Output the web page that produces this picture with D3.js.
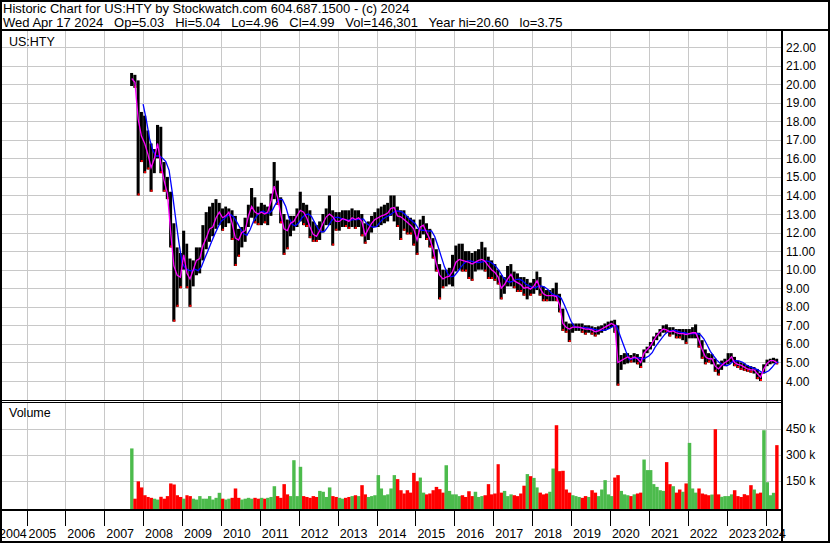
<!DOCTYPE html>
<html>
<head>
<meta charset="UTF-8">
<title>US:HTY historic chart</title>
<script src="https://cdnjs.cloudflare.com/ajax/libs/d3/7.8.5/d3.min.js"></script>
<style>
body { margin: 0; background: #fff; }
svg text { font-family: "Liberation Sans", Arial, sans-serif; font-size: 12px; fill: #000; }
svg text.head { font-size: 13px; white-space: pre; }
svg text.lbl { font-size: 12.5px; }
</style>
</head>
<body>
<svg id="chart" width="830" height="543"></svg>
<script>
// monthly bars, Sep 2007 .. Apr 2024
var startMonth = new Date(2007, 8, 1);

var highs = [
    20.6, 20.5, 20.2, 18.5,
    18.3, 17.5, 16.8, 16.5, 17.8, 17.7, 15.8, 15.0, 14.2, 12.5, 11.2, 10.9,
    12.1, 11.4, 10.6, 10.5, 11.2, 11.2, 12.4, 13.1, 13.4, 13.6, 13.8, 13.6,
    13.3, 13.4, 13.3, 13.2, 12.9, 12.2, 12.3, 12.8, 13.5, 14.4, 13.9, 13.4,
    13.6, 13.5, 13.4, 14.1, 15.8, 14.8, 13.9, 13.0, 12.7, 12.9, 12.9, 13.3,
    14.2, 13.6, 13.5, 13.2, 12.6, 12.4, 12.6, 13.0, 13.3, 14.0, 13.2, 13.1,
    13.1, 13.2, 13.2, 13.2, 13.3, 13.2, 13.2, 13.0, 12.5, 12.6, 12.9, 13.1,
    13.3, 13.4, 13.5, 13.6, 14.0, 14.0, 13.4, 13.2, 13.2, 12.9, 12.8, 12.7,
    12.2, 12.7, 12.9, 12.5, 12.2, 11.7, 11.1, 10.3, 10.0, 10.0, 10.1, 10.8,
    11.3, 11.4, 11.4, 11.0, 11.0, 10.9, 11.0, 11.1, 11.5, 11.2, 10.7, 10.5,
    10.3, 10.0, 9.7, 9.6, 10.2, 10.3, 9.9, 9.8, 9.6, 9.6, 9.5, 9.3,
    9.5, 9.9, 9.6, 9.1, 8.9, 8.9, 9.0, 9.3, 8.7, 7.9, 7.2, 7.1,
    7.1, 7.1, 7.1, 7.1, 7.0, 7.0, 6.95, 6.9, 6.95, 7.0, 7.1, 7.2,
    7.25, 7.3, 7.0, 5.4, 5.5, 5.5, 5.4, 5.5, 5.45, 5.3, 5.7, 5.85,
    6.1, 6.4, 6.6, 6.8, 7.0, 7.05, 6.9, 6.9, 6.8, 6.8, 6.8, 6.8,
    6.8, 6.9, 7.05, 6.6, 6.2, 5.7, 5.5, 5.45, 5.2, 4.9, 5.1, 5.2,
    5.5, 5.5, 5.3, 5.1, 5.0, 4.95, 4.85, 4.8, 4.75, 4.65, 4.45, 4.9,
    5.15, 5.2, 5.25, 5.2
];

var lows = [
    19.9, 19.8, 14.0, 15.8,
    15.2, 15.4, 14.2, 15.2, 16.0, 15.2, 14.2, 13.8, 11.2, 7.2, 8.0, 9.0,
    10.0, 9.0, 8.0, 9.1, 9.7, 9.8, 10.5, 11.1, 11.5, 11.8, 12.2, 12.4,
    12.1, 12.3, 12.5, 11.6, 10.2, 10.7, 11.2, 11.5, 12.3, 12.8, 12.5, 12.4,
    12.4, 12.5, 12.4, 12.9, 13.8, 13.5, 12.5, 10.8, 11.1, 11.8, 12.1, 12.3,
    12.6, 12.4, 12.3, 11.7, 11.5, 11.5, 11.6, 12.0, 12.4, 12.4, 11.3, 12.1,
    12.1, 12.3, 12.3, 12.2, 12.3, 12.2, 12.3, 11.8, 11.4, 11.6, 12.0, 12.3,
    12.3, 12.4, 12.5, 12.6, 12.9, 12.6, 12.3, 11.6, 12.1, 11.9, 11.9, 11.3,
    10.8, 11.7, 11.9, 11.6, 11.2, 10.6, 9.9, 8.4, 9.0, 9.1, 9.2, 9.1,
    9.9, 10.0, 9.9, 9.9, 9.5, 9.4, 9.9, 10.0, 10.0, 9.9, 9.5, 9.5,
    9.4, 9.2, 8.4, 8.7, 9.1, 9.1, 9.0, 8.8, 8.8, 8.6, 8.4, 8.6,
    8.7, 8.9, 8.6, 8.3, 8.3, 8.3, 8.3, 8.3, 7.7, 6.7, 6.6, 6.1,
    6.6, 6.7, 6.7, 6.6, 6.5, 6.6, 6.5, 6.4, 6.5, 6.6, 6.7, 6.8,
    6.9, 6.6, 3.75, 4.6, 4.9, 4.95, 5.0, 5.0, 4.9, 4.7, 5.0, 5.5,
    5.7, 5.9, 6.2, 6.4, 6.6, 6.6, 6.4, 6.5, 6.3, 6.3, 6.2, 6.0,
    6.3, 6.3, 6.3, 5.8, 5.2, 4.9, 5.0, 4.9, 4.5, 4.3, 4.6, 4.8,
    4.9, 5.0, 4.8, 4.7, 4.6, 4.55, 4.5, 4.45, 4.4, 4.1, 4.0, 4.4,
    4.8, 4.9, 4.95, 4.9
];

var closes = [
    20.3, 20.1, 18.1, 17.2,
    16.8, 16.2, 15.5, 16.0, 16.8, 15.7, 14.8, 14.1, 12.0, 10.2, 9.7, 9.6,
    10.8, 9.8, 9.5, 10.0, 10.5, 10.6, 11.3, 11.7, 12.2, 12.3, 12.8, 13.1,
    12.8, 12.9, 13.1, 12.5, 11.7, 11.6, 12.0, 12.1, 12.9, 13.4, 13.1, 13.0,
    13.1, 13.0, 13.1, 13.7, 14.5, 13.9, 13.0, 12.2, 12.1, 12.5, 12.6, 12.9,
    13.2, 13.1, 12.8, 12.3, 11.9, 11.8, 12.1, 12.5, 12.85, 13.0, 12.85, 12.6,
    12.6, 12.75, 12.7, 12.6, 12.8, 12.7, 12.8, 12.6, 11.85, 12.2, 12.5, 12.7,
    12.8, 12.9, 12.95, 13.05, 13.3, 13.35, 12.9, 12.85, 12.7, 12.55, 12.4, 12.2,
    11.6, 12.3, 12.4, 12.0, 11.65, 11.1, 10.3, 9.7, 9.5, 9.6, 9.65, 9.9,
    10.4, 10.55, 10.5, 10.45, 10.4, 10.3, 10.4, 10.5, 10.55, 10.45, 10.2, 10.0,
    9.85, 9.6, 9.0, 9.2, 9.5, 9.75, 9.4, 9.3, 9.2, 9.0, 9.05, 8.95,
    9.1, 9.4, 9.0, 8.7, 8.6, 8.6, 8.6, 8.55, 8.1, 7.1, 6.9, 6.8,
    6.9, 6.9, 6.9, 6.85, 6.8, 6.8, 6.75, 6.65, 6.7, 6.8, 6.9, 7.0,
    7.1, 7.0, 5.0, 5.1, 5.2, 5.3, 5.2, 5.3, 5.2, 5.0, 5.5, 5.7,
    5.9, 6.2, 6.45, 6.65, 6.8, 6.75, 6.65, 6.7, 6.6, 6.55, 6.55, 6.5,
    6.55, 6.6, 6.6, 6.2, 5.7, 5.3, 5.2, 5.2, 4.8, 4.65, 4.85, 5.0,
    5.1, 5.3, 5.0, 4.9, 4.85, 4.75, 4.65, 4.6, 4.6, 4.4, 4.2, 4.65,
    4.95, 5.1, 5.1, 4.99
];

// volume in thousands of shares
var volumes = [
    335, 45, 145, 110,
    65, 55, 50, 45, 40, 56, 45, 60, 133, 127, 65, 55,
    45, 65, 60, 45, 40, 60, 45, 45, 60, 40, 50, 79,
    45, 40, 45, 50, 104, 50, 40, 45, 50, 45, 50, 45,
    50, 45, 50, 55, 117, 60, 50, 129, 70, 60, 267, 60,
    229, 60, 55, 50, 60, 55, 90, 85, 55, 110, 60, 55,
    50, 45, 50, 55, 60, 65, 60, 123, 70, 55, 60, 65,
    181, 104, 65, 70, 104, 181, 158, 94, 75, 94, 80, 194,
    146, 167, 80, 70, 75, 94, 113, 100, 80, 238, 90, 70,
    70, 60, 65, 55, 88, 60, 85, 55, 60, 65, 129, 70,
    75, 244, 80, 90, 60, 70, 65, 60, 75, 120, 187, 175,
    165, 110, 80, 70, 75, 85, 219, 469, 204, 206, 98, 80,
    65, 60, 55, 50, 60, 55, 94, 80, 60, 98, 152, 70,
    60, 167, 181, 90, 70, 65, 60, 70, 75, 80, 271, 210,
    210, 129, 113, 94, 90, 256, 129, 117, 80, 98, 85, 133,
    367, 104, 80, 104, 75, 70, 65, 69, 446, 70, 56, 60,
    60, 70, 94, 60, 55, 71, 65, 123, 98, 75, 80, 440,
    140, 65, 79, 354
];

var yearLabels = d3.range(2004, 2025);
var priceTicks = d3.range(4, 23);
var volTicks = [150, 300, 450];

var headerLine1 = "Historic Chart for US:HTY by Stockwatch.com 604.687.1500 - (c) 2024";
var headerFields = ["Wed Apr 17 2024", "Op=5.03", "Hi=5.04", "Lo=4.96", "Cl=4.99", "Vol=146,301", "Year hi=20.60", "lo=3.75"];

var svg = d3.select("#chart");
var plotL = 2, plotR = 781,
    mainTop = 31, mainBot = 400,
    volTop = 403, volBot = 509;

var months = closes.map(function(d, i) { return d3.timeMonth.offset(startMonth, i); });

var x = d3.scaleTime()
    .domain([new Date(2005, 0, 1), new Date(2024, 0, 1)])
    .range([26.5, 765.5]);
var y = d3.scaleLinear().domain([4, 22]).range([381, 47]);
var yv = d3.scaleLinear().domain([0, 450]).range([506.5, 428.5]);

function px(v) { return Math.round(v) + 0.5; }
function monthW(i) { return x(d3.timeMonth.offset(months[i], 1)) - x(months[i]); }

svg.append("rect").attr("width", 830).attr("height", 543).attr("fill", "#fff");

var defs = svg.append("defs");
defs.append("clipPath").attr("id", "clipMain").append("rect")
    .attr("x", plotL).attr("y", mainTop).attr("width", plotR - plotL).attr("height", mainBot - mainTop);
defs.append("clipPath").attr("id", "clipVol").append("rect")
    .attr("x", plotL).attr("y", volTop).attr("width", plotR - plotL).attr("height", volBot - volTop);

// grid
var grid = svg.append("g").attr("stroke", "#c8c8c8").attr("stroke-width", 1).attr("fill", "none");
var yearBounds = yearLabels.slice(1).map(function(yr) { return new Date(yr, 0, 1); });

grid.selectAll("line.vm").data(yearBounds).enter().append("line")
    .attr("x1", function(d) { return px(x(d)); }).attr("x2", function(d) { return px(x(d)); })
    .attr("y1", mainTop).attr("y2", mainBot);
grid.selectAll("line.vv").data(yearBounds).enter().append("line")
    .attr("x1", function(d) { return px(x(d)); }).attr("x2", function(d) { return px(x(d)); })
    .attr("y1", volTop).attr("y2", volBot);
grid.selectAll("line.hm").data(priceTicks).enter().append("line")
    .attr("x1", plotL).attr("x2", plotR)
    .attr("y1", function(d) { return px(y(d)); }).attr("y2", function(d) { return px(y(d)); });
grid.selectAll("line.hv").data(volTicks).enter().append("line")
    .attr("x1", plotL).attr("x2", plotR)
    .attr("y1", function(d) { return px(yv(d)); }).attr("y2", function(d) { return px(yv(d)); });

// price bars
var main = svg.append("g").attr("clip-path", "url(#clipMain)");

main.selectAll("rect.bar").data(closes).enter().append("rect")
    .attr("x", function(d, i) { return x(months[i]); })
    .attr("width", function(d, i) { return monthW(i) - 0.2; })
    .attr("y", function(d, i) { return y(highs[i]); })
    .attr("height", function(d, i) { return y(lows[i]) - y(highs[i]); })
    .attr("fill", "#000");

// red ticks on down months
main.selectAll("rect.down").data(closes.map(function(d, i) { return i; }).filter(function(i) {
        return i > 0 && closes[i] < closes[i - 1];
    })).enter().append("rect")
    .attr("x", function(i) { return x(months[i]) + 1; })
    .attr("y", function(i) { return y(lows[i]) - 2; })
    .attr("width", 2).attr("height", 2)
    .attr("fill", "#ff0000");

// long average (blue), 4 month trailing mean of closes
var maLong = [];
closes.forEach(function(d, i) {
    if (i < 3) return;
    maLong.push({ t: d3.timeMonth.offset(months[i], 1), v: d3.mean(closes.slice(i - 3, i + 1)) });
});
main.append("path").datum(maLong)
    .attr("fill", "none").attr("stroke", "#0000ff").attr("stroke-width", 1.3)
    .attr("d", d3.line().x(function(d) { return x(d.t); }).y(function(d) { return y(d.v); }));

// short average (magenta)
main.append("path").datum(closes)
    .attr("fill", "none").attr("stroke", "#ff00ff").attr("stroke-width", 1.3)
    .attr("d", d3.line()
        .x(function(d, i) { return x(d3.timeDay.offset(months[i], 15)); })
        .y(function(d) { return y(d); }));

// volume
var vol = svg.append("g").attr("clip-path", "url(#clipVol)");
vol.selectAll("rect").data(volumes).enter().append("rect")
    .attr("x", function(d, i) { return x(months[i]); })
    .attr("width", function(d, i) { return monthW(i) + 0.2; })
    .attr("y", function(d) { return yv(d); })
    .attr("height", function(d) { return volBot - yv(d); })
    .attr("fill", function(d, i) {
        if (i == 0 || closes[i] >= closes[i - 1]) return "#4cbb4c";
        return "#ff0000";
    });

// frame
var frame = svg.append("g").attr("stroke", "#000").attr("fill", "none");
frame.append("rect").attr("x", 1).attr("y", 1).attr("width", 828).attr("height", 541).attr("stroke-width", 2);
frame.append("line").attr("x1", 0).attr("x2", 830).attr("y1", 30).attr("y2", 30).attr("stroke-width", 2);
frame.append("line").attr("x1", 782).attr("x2", 782).attr("y1", 30).attr("y2", 543).attr("stroke-width", 2);
frame.append("line").attr("x1", 0).attr("x2", 782).attr("y1", 400.5).attr("y2", 400.5).attr("stroke-width", 1);
frame.append("line").attr("x1", 0).attr("x2", 782).attr("y1", 402.5).attr("y2", 402.5).attr("stroke-width", 1);
frame.append("line").attr("x1", 0).attr("x2", 782).attr("y1", 510).attr("y2", 510).attr("stroke-width", 2);
frame.selectAll("line.tick").data(yearBounds).enter().append("line")
    .attr("x1", function(d) { return px(x(d)); }).attr("x2", function(d) { return px(x(d)); })
    .attr("y1", 511).attr("y2", 526).attr("stroke-width", 1);

// texts
svg.append("text").attr("class", "head").attr("x", 3).attr("y", 13).text(headerLine1);
svg.append("text").attr("class", "head").attr("x", 3).attr("y", 27)
    .attr("xml:space", "preserve")
    .text(headerFields.join("   "));
svg.append("text").attr("class", "lbl").attr("x", 9).attr("y", 46).text("US:HTY");
svg.append("text").attr("class", "lbl").attr("x", 9).attr("y", 417).text("Volume");

svg.selectAll("text.pl").data(priceTicks).enter().append("text")
    .attr("x", 786).attr("y", function(d) { return y(d) + 4.5; })
    .text(function(d) { return d.toFixed(2); });
svg.selectAll("text.vl").data(volTicks).enter().append("text")
    .attr("x", 786).attr("y", function(d) { return yv(d) + 4.5; })
    .text(function(d) { return d + " k"; });

svg.selectAll("text.yr").data(yearLabels).enter().append("text")
    .attr("class", "lbl")
    .attr("y", 538)
    .text(function(d) { return d; })
    .attr("x", function(d) {
        var w = this.getComputedTextLength();
        var xx = x(new Date(d, 0, 1)) + 2;
        return Math.max(-1, Math.min(xx, 786 - w));
    });
</script>
</body>
</html>
